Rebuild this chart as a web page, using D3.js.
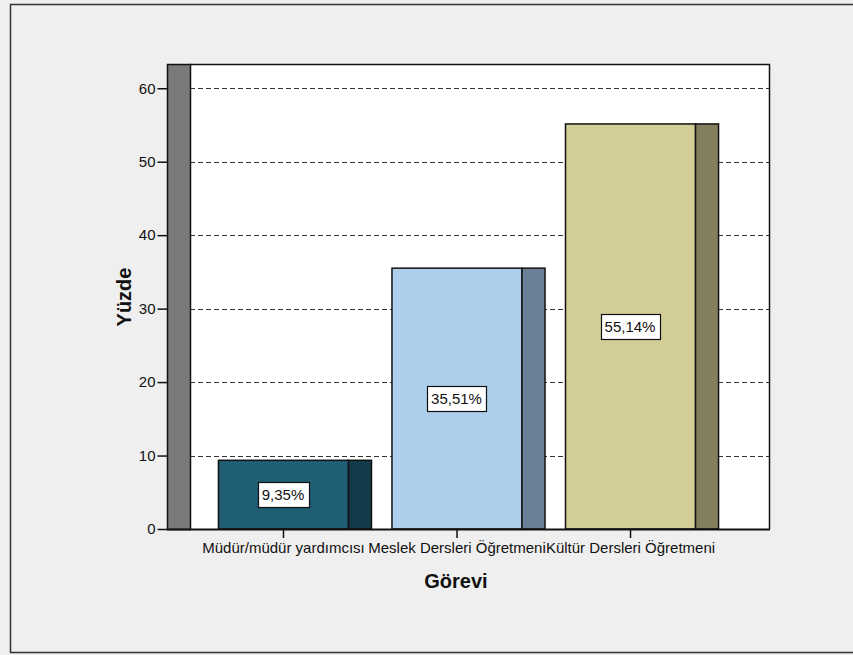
<!DOCTYPE html>
<html>
<head>
<meta charset="utf-8">
<script src="https://cdn.jsdelivr.net/npm/d3@7/dist/d3.min.js"></script>
<style>
  html, body { margin: 0; padding: 0; background: #efefef; }
  svg { display: block; }
  text { font-family: Arial, "Liberation Sans", sans-serif; }
</style>
</head>
<body>
<svg id="chart" width="853" height="655"></svg>
<script>
// Görevi dağılımı (yüzde)
const categories = ["Müdür/müdür yardımcısı", "Meslek Dersleri Öğretmeni", "Kültür Dersleri Öğretmeni"];
const percents = [9.35, 35.51, 55.14];
const valueLabels = ["9,35%", "35,51%", "55,14%"];
const frontColors = ["#1f5e75", "#aecfec", "#d3ce98"];
const sideColors = ["#133a48", "#6b7f95", "#837f5c"];
const yTicks = [0, 10, 20, 30, 40, 50, 60];

const svg = d3.select("#chart");

// outer frame
svg.append("rect").attr("x", 10.5).attr("y", 4.5).attr("width", 860).attr("height", 648)
  .attr("fill", "#efefef").attr("stroke", "#333").attr("stroke-width", 1.5);

const plot = { left: 190, right: 769, top: 64, bottom: 529 };
const wallW = 23;

const y = d3.scaleLinear().domain([0, 63.3]).range([plot.bottom, plot.top]);
// each band holds the front face plus the side face of one bar
const x = d3.scaleBand().domain(categories).range([200.6, 735.4]).paddingInner(0.118).paddingOuter(0.1);
const sideW = 23;
const frontW = x.bandwidth() - sideW;

// plot background
svg.append("rect").attr("x", plot.left).attr("y", plot.top)
  .attr("width", plot.right - plot.left).attr("height", plot.bottom - plot.top)
  .attr("fill", "#ffffff");

// grid lines
svg.append("g").selectAll("line").data(yTicks).join("line")
  .attr("x1", plot.left).attr("x2", plot.right)
  .attr("y1", d => Math.round(y(d)) + 0.5).attr("y2", d => Math.round(y(d)) + 0.5)
  .attr("stroke", "#333").attr("stroke-width", 1.2).attr("stroke-dasharray", "5,3");

// left wall
svg.append("rect").attr("x", plot.left - wallW + 0.5).attr("y", plot.top + 0.5)
  .attr("width", wallW).attr("height", plot.bottom - plot.top)
  .attr("fill", "#7a7a7a").attr("stroke", "#111").attr("stroke-width", 1.5);

// plot border (top and right)
svg.append("path")
  .attr("d", `M${plot.left},${plot.top + 0.5}H${plot.right + 0.5}V${plot.bottom}`)
  .attr("fill", "none").attr("stroke", "#111").attr("stroke-width", 1.5);

// y axis
const yAxis = d3.axisLeft(y).tickValues(yTicks).tickSize(10).tickPadding(2);
const gy = svg.append("g").attr("transform", `translate(${plot.left - wallW + 0.5},0)`).call(yAxis);
gy.select(".domain").remove();
gy.selectAll(".tick line").attr("stroke", "#111").attr("stroke-width", 1.5);
gy.selectAll(".tick text").attr("font-size", 15).attr("fill", "#111")
  .attr("font-family", "Arial, 'Liberation Sans', sans-serif");

// bars: front face + side face
const bars = svg.append("g").selectAll("g").data(categories).join("g");
bars.append("rect")
  .attr("x", d => x(d) + 0.5)
  .attr("y", (d, i) => y(percents[i]))
  .attr("width", frontW)
  .attr("height", (d, i) => y(0) - y(percents[i]))
  .attr("fill", (d, i) => frontColors[i]).attr("stroke", "#111").attr("stroke-width", 1.5);
bars.append("rect")
  .attr("x", d => x(d) + frontW + 0.5)
  .attr("y", (d, i) => y(percents[i]))
  .attr("width", sideW)
  .attr("height", (d, i) => y(0) - y(percents[i]))
  .attr("fill", (d, i) => sideColors[i]).attr("stroke", "#111").attr("stroke-width", 1.5);

// value labels
bars.each(function (d, i) {
  const g = d3.select(this);
  const cx = x(d) + frontW / 2;
  const cy = (y(percents[i]) + y(0)) / 2;
  const t = g.append("text").attr("x", cx).attr("y", cy + 5.5)
    .attr("text-anchor", "middle").attr("font-size", 15).attr("fill", "#111")
    .text(valueLabels[i]);
  const bb = t.node().getBBox();
  g.insert("rect", "text")
    .attr("x", Math.round(bb.x - 4) + 0.5).attr("y", Math.round(cy - 12.5) + 0.5)
    .attr("width", Math.round(bb.width + 8)).attr("height", 25)
    .attr("fill", "#fff").attr("stroke", "#111").attr("stroke-width", 1.2);
});

// x axis baseline
svg.append("line").attr("x1", plot.left - wallW).attr("x2", plot.right + 1)
  .attr("y1", plot.bottom + 0.5).attr("y2", plot.bottom + 0.5)
  .attr("stroke", "#111").attr("stroke-width", 2);

// category ticks and labels
const cat = svg.append("g").selectAll("g").data(categories).join("g")
  .attr("transform", d => `translate(${x(d) + frontW / 2 + 0.5},${plot.bottom})`);
cat.append("line").attr("y1", 0).attr("y2", 9).attr("stroke", "#111").attr("stroke-width", 1.5);
cat.append("text").attr("y", 24).attr("text-anchor", "middle")
  .attr("font-size", 15).attr("fill", "#111").text(d => d);

// axis titles
svg.append("text").attr("x", 456).attr("y", 588).attr("text-anchor", "middle")
  .attr("font-size", 20).attr("font-weight", "bold").attr("fill", "#111").text("Görevi");
svg.append("text").attr("transform", "translate(131,297) rotate(-90)")
  .attr("text-anchor", "middle").attr("font-size", 20).attr("font-weight", "bold")
  .attr("fill", "#111").text("Yüzde");
</script>
</body>
</html>
